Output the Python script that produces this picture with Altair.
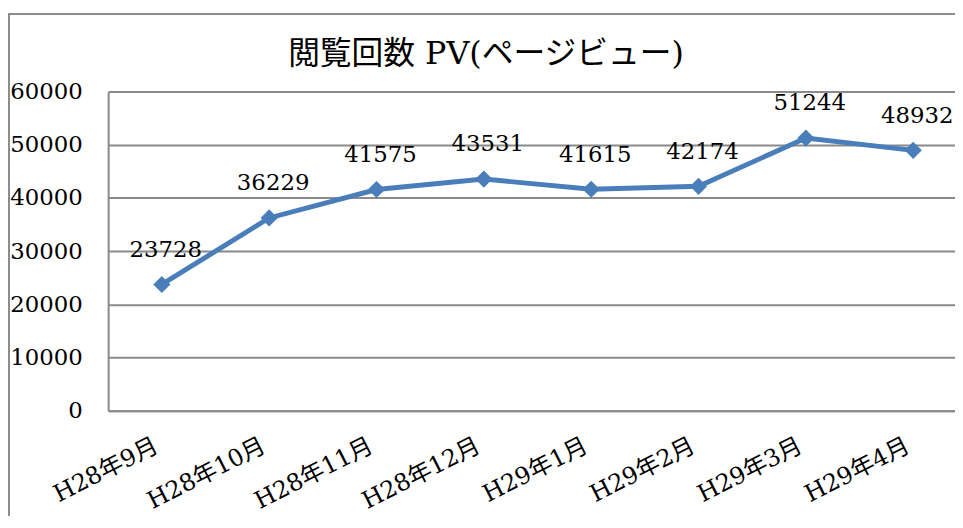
import altair as alt
import pandas as pd

months = ["H28年9月", "H28年10月", "H28年11月", "H28年12月",
          "H29年1月", "H29年2月", "H29年3月", "H29年4月"]
pv = [23728, 36229, 41575, 43531, 41615, 42174, 51244, 48932]
y_ticks = [0, 10000, 20000, 30000, 40000, 50000, 60000]
title_text = "閲覧回数  PV(ページビュー)"

df = pd.DataFrame({"month": months, "pv": pv})

FONT = "DejaVu Serif, Noto Sans CJK JP"
BLUE = "#4A7EBB"
GRID = "#8a8a8a"

x_enc = alt.X("month:N", sort=months,
              scale=alt.Scale(type="point", range=[0, 866], padding=0.5),
              axis=alt.Axis(title=None, labelAngle=-27, labelAlign="right",
                            labelBaseline="top", labelPadding=23, labelOffset=-11,
                            ticks=False, domain=True, domainColor=GRID,
                            domainWidth=2, labelFont=FONT, labelFontSize=24,
                            labelColor="#000"))
y_enc = alt.Y("pv:Q", scale=alt.Scale(domain=[0, 60000], nice=False),
              axis=alt.Axis(title=None, values=y_ticks, format="d", ticks=False,
                            labelPadding=26, labelFont=FONT, labelFontSize=23,
                            labelColor="#000", grid=True, gridColor=GRID,
                            gridWidth=2, domain=True, domainColor=GRID,
                            domainWidth=2))

base = alt.Chart(df).encode(x=x_enc, y=y_enc)

line = base.mark_line(color=BLUE, strokeWidth=5)
points = base.mark_point(shape="diamond", filled=True, size=300,
                         color=BLUE, opacity=1)
labels = base.mark_text(font=FONT, fontSize=23, dy=-28, dx=4,
                        baseline="alphabetic", color="#000").encode(
    text=alt.Text("pv:Q", format="d"))

frame = alt.Chart(df).mark_rect(fill=None, stroke="#8c8c8c", strokeWidth=2).encode(
    x=alt.value(-100), x2=alt.value(900), y=alt.value(-78), y2=alt.value(500)
).transform_filter(alt.datum.month == months[0])

chart = alt.layer(frame, line, points, labels).properties(
    width=854, height=322,
    padding={"left": 101, "top": 82, "right": 0, "bottom": 104},
    autosize=alt.AutoSizeParams(type="none"),
    title=alt.TitleParams(title_text, font=FONT, fontSize=32, fontWeight="normal",
                          color="#000", anchor="middle", dx=-46, dy=106, offset=23,
                          baseline="alphabetic", frame="group"),
).configure(background="white").configure_view(stroke=None)

chart.save("out.html", embed_options={"renderer": "svg", "actions": False})
